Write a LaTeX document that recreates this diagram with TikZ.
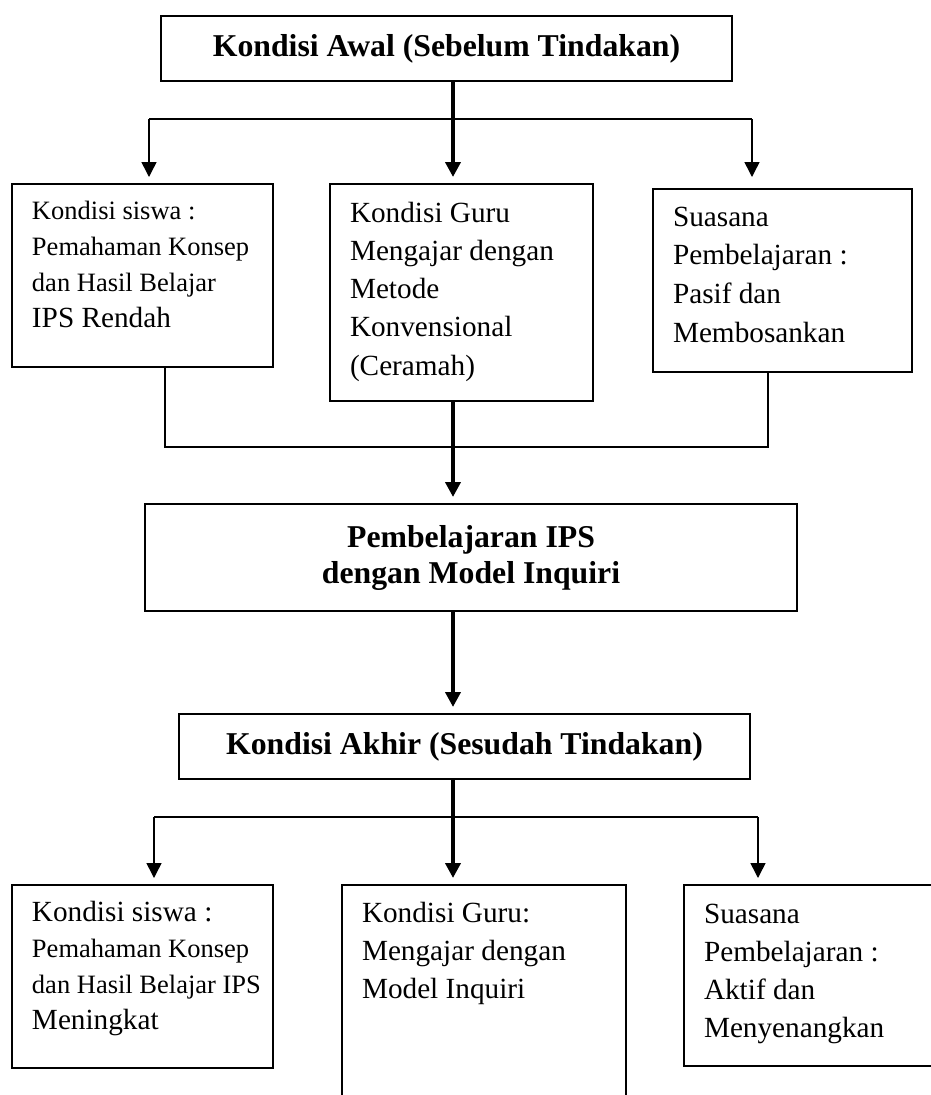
\documentclass[tikz,border=0pt]{standalone}
\usepackage{fontspec}
\setmainfont{Liberation Serif}
\usetikzlibrary{arrows.meta, positioning}

\begin{document}
\begin{tikzpicture}[
  x=0.4pt, y=-0.4pt,
  kotak/.style={draw, line width=0.8pt, anchor=north west, align=flush left, inner xsep=8pt, inner ysep=0pt, font=\fontsize{11.7}{15.2}\selectfont},
  judul/.style={draw, line width=0.8pt, anchor=north west, align=center, inner sep=0pt, font=\bfseries\fontsize{12.7}{14.4}\selectfont},
  garis/.style={line width=0.6pt},
  panah/.style={line width=0.6pt, -{Triangle[length=6pt, width=6pt]}, shorten >=2.4pt},
  panahtebal/.style={line width=1.6pt, -{Triangle[length=6pt, width=6pt]}, shorten >=2.4pt}
]
  \useasboundingbox (0,0) rectangle (931,1095);

  % sebelum tindakan
  \node[judul, minimum width=228.4pt, minimum height=26pt] (awal) at (160,15) {Kondisi Awal (Sebelum Tindakan)};

  \node[kotak, text width=88.4pt, text height=14pt, text depth=59.2pt, font=\fontsize{11.7}{14.4}\selectfont] (siswa1) at (11,183) {
    {\fontsize{10.6}{14.4}\selectfont Kondisi siswa :}\\
    {\fontsize{10.6}{14.4}\selectfont Pemahaman Konsep}\\
    {\fontsize{10.6}{14.4}\selectfont dan Hasil Belajar}\\
    IPS Rendah
  };

  \node[kotak, text width=89.2pt, text height=15.2pt, text depth=71.6pt, font=\fontsize{11.7}{15.3}\selectfont] (guru1) at (329,183) {
    Kondisi Guru\\
    Mengajar dengan\\
    Metode\\
    Konvensional\\
    (Ceramah)
  };

  \node[kotak, text width=87.6pt, text height=14.8pt, text depth=58.4pt, font=\fontsize{11.7}{15.5}\selectfont] (suasana1) at (652,188) {
    Suasana\\
    Pembelajaran :\\
    Pasif dan\\
    Membosankan
  };

  % tindakan
  \node[judul, minimum width=260.8pt, minimum height=42.8pt] (model) at (144,503) {Pembelajaran IPS\\dengan Model Inquiri};

  % sesudah tindakan
  \node[judul, minimum width=228.4pt, minimum height=26pt] (akhir) at (178,713) {Kondisi Akhir (Sesudah Tindakan)};

  \node[kotak, text width=88.4pt, text height=14.4pt, text depth=58.8pt, font=\fontsize{11.7}{14.5}\selectfont] (siswa2) at (11,884) {
    Kondisi siswa :\\
    {\fontsize{10.6}{14.5}\selectfont Pemahaman Konsep}\\
    {\fontsize{10.6}{14.5}\selectfont \mbox{dan Hasil Belajar IPS}}\\
    Meningkat
  };

  \node[kotak, text width=97.6pt, text height=14.8pt, text depth=75.6pt] (guru2) at (341,884) {
    Kondisi Guru:\\
    Mengajar dengan\\
    Model Inquiri
  };

  \node[kotak, text width=88.8pt, text height=15.2pt, text depth=57.2pt, font=\fontsize{11.7}{15.3}\selectfont] (suasana2) at (683,884) {
    Suasana\\
    Pembelajaran :\\
    Aktif dan\\
    Menyenangkan
  };

  % garis penghubung
  \coordinate (sumbu) at (453,0);
  \coordinate (cabang1kiri) at (149,119);
  \coordinate (cabang1kanan) at (752,119);
  \coordinate (gabungkiri) at (165,447);
  \coordinate (gabungkanan) at (768,447);
  \coordinate (cabang2kiri) at (154,817);
  \coordinate (cabang2kanan) at (758,817);

  \draw[garis] (cabang1kiri) -- (cabang1kanan);
  \draw[panah] (cabang1kiri) -- (cabang1kiri |- guru1.north);
  \draw[panah] (cabang1kanan) -- (cabang1kanan |- guru1.north);
  \draw[panahtebal] (awal.south -| sumbu) -- (sumbu |- guru1.north);

  \draw[garis] (gabungkiri |- siswa1.south) -- (gabungkiri) -- (gabungkanan) -- (gabungkanan |- suasana1.south);
  \draw[panahtebal] (sumbu |- guru1.south) -- (sumbu |- model.north);
  \draw[panahtebal] (sumbu |- model.south) -- (sumbu |- akhir.north);

  \draw[garis] (cabang2kiri) -- (cabang2kanan);
  \draw[panah] (cabang2kiri) -- (cabang2kiri |- guru2.north);
  \draw[panah] (cabang2kanan) -- (cabang2kanan |- guru2.north);
  \draw[panahtebal] (sumbu |- akhir.south) -- (sumbu |- guru2.north);
\end{tikzpicture}
\end{document}
